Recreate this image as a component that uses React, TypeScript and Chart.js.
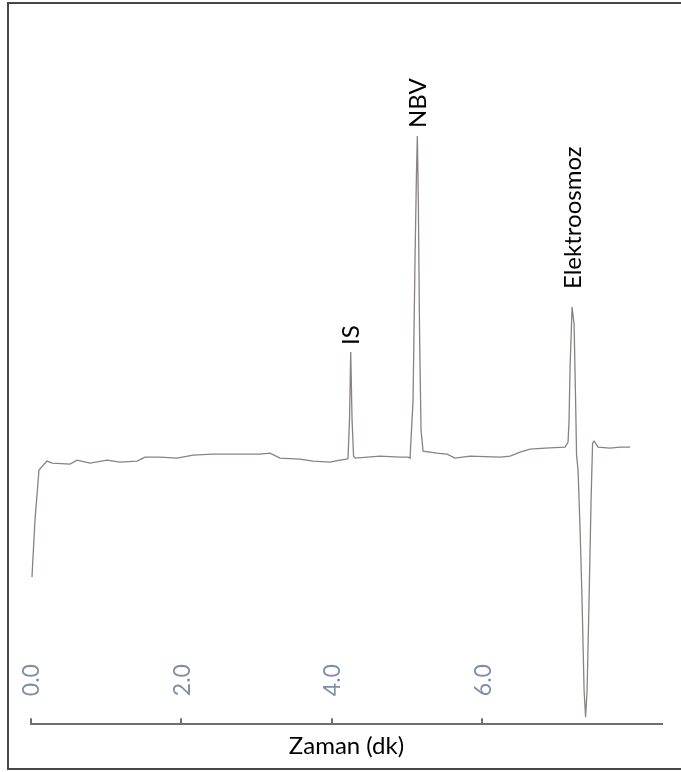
import React, { useEffect, useRef } from "react";
import { Chart, registerables } from "chart.js";

Chart.register(...registerables);

// Migration time (min)
const timeMin = [
  0.013, 0.053, 0.106, 0.213, 0.279, 0.519, 0.612, 0.785, 1.011, 1.184,
  1.41, 1.516, 1.715, 1.941, 2.154, 2.42, 2.686, 3.045, 3.178, 3.311,
  3.577, 3.75, 3.976, 4.109, 4.202, 4.215, 4.235, 4.251, 4.269, 4.289,
  4.309, 4.641, 4.907, 5.013, 5.04, 5.08, 5.106, 5.126, 5.137, 5.15,
  5.166, 5.186, 5.213, 5.399, 5.532, 5.638, 5.838, 6.237, 6.37, 6.503,
  6.636, 6.835, 7.101, 7.141, 7.154, 7.168, 7.194, 7.221, 7.241, 7.254,
  7.274, 7.301, 7.327, 7.354, 7.374, 7.394, 7.42, 7.447, 7.467, 7.487,
  7.54, 7.699, 7.832, 7.966,
];

// Detector signal (arbitrary units)
const signal = [
  -11.5, -5.8, -0.8, 0.1, -0.1, -0.2, 0.2, -0.1, 0.2, 0.0,
  0.1, 0.5, 0.5, 0.4, 0.7, 0.8, 0.8, 0.8, 0.9, 0.4,
  0.3, 0.1, 0.0, 0.2, 0.3, 0.4, 4.2, 11.0, 4.2, 0.6,
  0.4, 0.6, 0.5, 0.5, 0.4, 6.2, 20.2, 29.2, 32.6, 26.2,
  13.2, 3.2, 1.1, 0.9, 0.8, 0.4, 0.6, 0.5, 0.6, 1.0,
  1.3, 1.4, 1.5, 2.0, 4.2, 9.5, 15.5, 13.8, 6.2, 0.7,
  -0.8, -6.8, -13.8, -22.8, -25.5, -22.8, -13.8, -3.8, 1.9, 2.1,
  1.5, 1.4, 1.5, 1.5,
];

// Tick labels on the time axis
const tickValues = [0, 2, 4, 6];
const tickLabels = ["0.0", "2.0", "4.0", "6.0"];

// Peak annotations
const peakNames = ["IS", "NBV", "Elektroosmoz"];
const peakTimes = [4.251, 5.137, 7.194];

const FONT = "Lato, 'Open Sans', sans-serif";

const overlayPlugin = {
  id: "chromOverlay",
  afterDraw(chart: any) {
    const { ctx, chartArea, scales } = chart;
    const xs = scales.x;
    const ys = scales.y;
    const bottom = chartArea.bottom;
    ctx.save();
    // inward tick marks
    ctx.strokeStyle = "#6f6f6f";
    ctx.lineWidth = 2;
    tickValues.forEach((v) => {
      const x = Math.round(xs.getPixelForValue(v));
      ctx.beginPath();
      ctx.moveTo(x, bottom);
      ctx.lineTo(x, bottom - 6);
      ctx.stroke();
    });
    // rotated tick labels inside the plot
    ctx.fillStyle = "#7f8fa6";
    ctx.font = `23px ${FONT}`;
    ctx.textAlign = "left";
    ctx.textBaseline = "middle";
    tickValues.forEach((v, i) => {
      const x = xs.getPixelForValue(v) + 1;
      ctx.save();
      ctx.translate(x, bottom - 28);
      ctx.rotate(-Math.PI / 2);
      ctx.fillText(tickLabels[i], 0, 0);
      ctx.restore();
    });
    // peak labels
    const gaps = [7, 8, 18];
    ctx.fillStyle = "#000000";
    ctx.font = `24px ${FONT}`;
    peakNames.forEach((name, i) => {
      let best = -1;
      for (let k = 0; k < timeMin.length; k++) {
        if (Math.abs(timeMin[k] - peakTimes[i]) < 0.06) {
          if (best < 0 || signal[k] > signal[best]) best = k;
        }
      }
      const px = xs.getPixelForValue(timeMin[best]) + 1;
      const py = ys.getPixelForValue(signal[best]);
      ctx.save();
      ctx.translate(px, py - gaps[i]);
      ctx.rotate(-Math.PI / 2);
      ctx.fillText(name, 0, 0);
      ctx.restore();
    });
    ctx.restore();
  },
};

export default function App() {
  const canvasRef = useRef<HTMLCanvasElement | null>(null);

  useEffect(() => {
    if (!canvasRef.current) return;
    const points = timeMin.map((t, i) => ({ x: t, y: signal[i] }));
    const chart = new Chart(canvasRef.current, {
      type: "line",
      data: {
        datasets: [
          {
            data: points,
            borderColor: "#8a8181",
            borderWidth: 1.3,
            pointRadius: 0,
            tension: 0,
            fill: false,
          },
        ],
      },
      options: {
        animation: false,
        responsive: true,
        maintainAspectRatio: false,
        layout: { padding: { left: 31, right: 19, top: 20, bottom: 7 } },
        plugins: {
          legend: { display: false },
          tooltip: { enabled: false },
        },
        scales: {
          x: {
            type: "linear",
            min: 0,
            max: 8.39,
            grid: { display: false, drawTicks: false },
            border: { display: true, color: "#6f6f6f", width: 2 },
            ticks: { display: false },
            title: {
              display: true,
              text: "Zaman (dk)",
              color: "#000000",
              font: { family: FONT, size: 24 },
              padding: { top: 8, bottom: 4 },
            },
          },
          y: {
            type: "linear",
            display: false,
            min: -26.2,
            max: 44.2,
          },
        },
      },
      plugins: [overlayPlugin],
    });
    return () => chart.destroy();
  }, []);

  return (
    <div
      style={{
        position: "absolute",
        left: 0,
        top: 0,
        width: 681,
        height: 772,
        overflow: "hidden",
        background: "#ffffff",
      }}
    >
      <div
        style={{
          position: "absolute",
          left: 7,
          top: 2,
          width: 700,
          height: 768,
          boxSizing: "border-box",
          border: "2px solid #474747",
        }}
      />
      <div style={{ position: "absolute", left: 0, top: 0, width: 681, height: 772 }}>
        <canvas ref={canvasRef} />
      </div>
    </div>
  );
}
